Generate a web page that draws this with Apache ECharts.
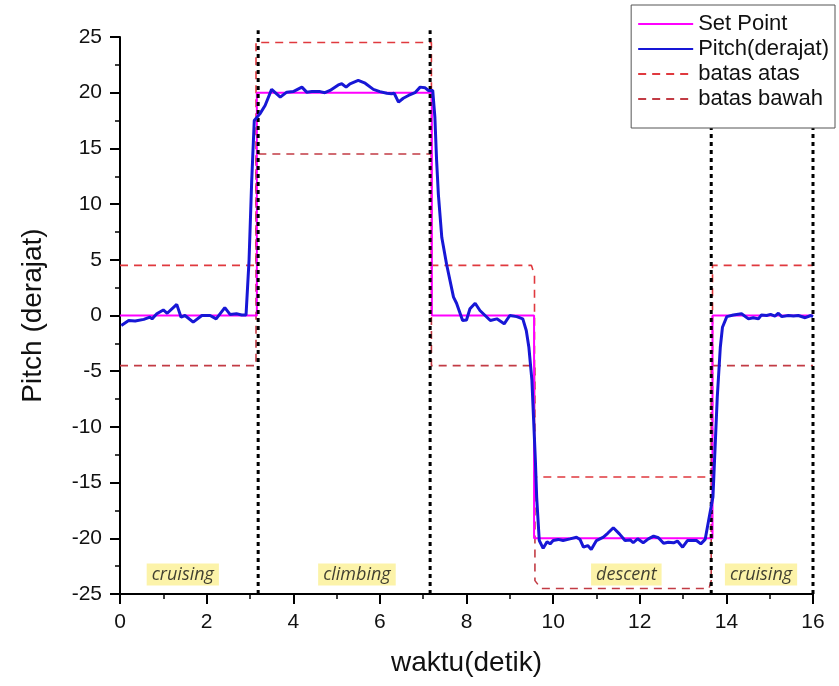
<!DOCTYPE html>
<html>
<head>
<meta charset="utf-8">
<script src="https://cdn.jsdelivr.net/npm/echarts@6/dist/echarts.min.js"></script>
<style>
  html, body { margin: 0; padding: 0; background: #fff; }
  #chart { width: 839px; height: 686px; }
</style>
</head>
<body>
<div id="chart"></div>
<script>
// measured pitch response (time in s, pitch in degrees)
const pitchTime = [0.03, 0.2, 0.35, 0.55, 0.69, 0.74, 0.85, 1.0, 1.09, 1.31, 1.41, 1.5, 1.69, 1.89, 2.08, 2.22, 2.42, 2.54, 2.69, 2.81, 2.91, 2.98, 3.04, 3.1, 3.23, 3.35, 3.5, 3.7, 3.85, 4.0, 4.2, 4.31, 4.43, 4.62, 4.73, 4.85, 5.04, 5.12, 5.22, 5.31, 5.5, 5.66, 5.85, 6.0, 6.16, 6.27, 6.33, 6.43, 6.54, 6.66, 6.81, 6.93, 7.04, 7.12, 7.22, 7.27, 7.31, 7.35, 7.43, 7.54, 7.7, 7.77, 7.91, 8.0, 8.08, 8.2, 8.31, 8.43, 8.55, 8.7, 8.87, 9.0, 9.16, 9.3, 9.38, 9.44, 9.51, 9.55, 9.59, 9.62, 9.68, 9.77, 9.86, 9.93, 10.0, 10.12, 10.23, 10.39, 10.54, 10.62, 10.7, 10.8, 10.88, 11.0, 11.16, 11.26, 11.39, 11.53, 11.66, 11.78, 11.85, 11.95, 12.08, 12.2, 12.32, 12.43, 12.55, 12.66, 12.78, 12.87, 12.99, 13.1, 13.31, 13.41, 13.51, 13.59, 13.69, 13.74, 13.79, 13.86, 13.91, 14.01, 14.16, 14.35, 14.51, 14.62, 14.74, 14.81, 14.93, 15.02, 15.12, 15.2, 15.28, 15.43, 15.55, 15.66, 15.82, 15.95, 16.0];
const pitchValue = [-0.9, -0.45, -0.5, -0.35, -0.15, -0.3, 0.15, 0.5, 0.2, 1.0, -0.15, 0, -0.6, 0, 0, -0.3, 0.7, 0.1, 0.15, 0.05, 0.05, 5, 12, 17.5, 18.1, 18.85, 20.3, 19.6, 20.05, 20.1, 20.5, 20.05, 20.1, 20.1, 20.0, 20.2, 20.7, 20.8, 20.5, 20.8, 21.1, 20.85, 20.3, 20.1, 19.95, 19.9, 19.95, 19.15, 19.5, 19.75, 20.0, 20.5, 20.45, 20.2, 20.2, 17.8, 13.9, 10.9, 7.0, 4.6, 1.65, 1.1, -0.45, -0.4, 0.6, 1.1, 0.45, 0, -0.45, -0.3, -0.75, 0, -0.1, -0.3, -1.35, -2.85, -5.8, -9.4, -13, -16.3, -20.2, -20.9, -20.3, -20.5, -20.2, -20.1, -20.2, -20.05, -19.9, -20.1, -20.8, -20.65, -21.0, -20.2, -19.9, -19.55, -19.05, -19.6, -20.2, -20.15, -20.4, -20.05, -20.4, -20.05, -19.8, -19.95, -20.45, -20.35, -20.4, -20.25, -20.8, -20.2, -20.2, -20.5, -20.1, -18.4, -16.3, -11.8, -7.3, -2.85, -1.05, -0.1, 0.05, 0.15, -0.3, -0.2, -0.3, 0.05, 0, 0.1, -0.05, 0.2, -0.1, 0, -0.05, 0, -0.2, 0, -0.1];

// set point (step profile)
const setTime = [0, 3.16, 3.16, 7.2, 7.2, 9.56, 9.56, 13.68, 13.68, 16];
const setValue = [0, 0, 20, 20, 0, 0, -20, -20, 0, 0];

// upper bound
const upperTime = [0, 3.14, 3.14, 7.19, 7.19, 9.5, 9.57, 9.57, 13.68, 13.68, 16];
const upperValue = [4.5, 4.5, 24.5, 24.5, 4.5, 4.5, 3.6, -14.5, -14.5, 4.5, 4.5];

// lower bound
const lowerTime = [0, 3.14, 3.14, 7.19, 7.19, 9.58, 9.58, 9.72, 13.6, 13.65, 13.65, 16];
const lowerValue = [-4.5, -4.5, 14.5, 14.5, -4.5, -4.5, -23.8, -24.5, -24.5, -23.8, -4.5, -4.5];

// phase boundaries
const phaseBounds = [3.19, 7.16, 13.65, 16];
const phaseSpan = [-25, 25.6];

// phase labels
const phaseNames = ['cruising', 'climbing', 'descent', 'cruising'];
const phaseX = [1.45, 5.47, 11.69, 14.8];
const phaseY = [-23.25, -23.25, -23.25, -23.25];

const zip = (xs, ys) => xs.map((x, i) => [x, ys[i]]);

const chart = echarts.init(document.getElementById('chart'));

const phaseSeries = phaseBounds.map(x => ({
  name: 'phase',
  type: 'line',
  symbol: 'none',
  silent: true,
  clip: false,
  lineStyle: { color: '#000', width: 3, type: [4, 4] },
  data: phaseSpan.map(y => [x, y]),
  z: 4
}));

const option = {
  animation: false,
  textStyle: { fontFamily: 'Liberation Sans, Arial, sans-serif' },
  grid: { left: 120, right: 26, top: 37, bottom: 92 },
  legend: {
    orient: 'vertical',
    right: 4,
    top: 5,
    z: 20,
    itemWidth: 55,
    itemHeight: 14,
    itemGap: 3,
    padding: [8, 6, 18, 6],
    backgroundColor: '#fff',
    borderColor: '#555',
    borderWidth: 1,
    itemStyle: { opacity: 0 },
    textStyle: { fontSize: 22, color: '#111', fontFamily: 'Liberation Sans, Arial, sans-serif' },
    data: ['Set Point', 'Pitch(derajat)', 'batas atas', 'batas bawah']
  },
  xAxis: {
    type: 'value',
    min: 0,
    max: 16,
    interval: 2,
    name: 'waktu(detik)',
    nameLocation: 'middle',
    nameGap: 55,
    nameTextStyle: { fontSize: 28, color: '#111' },
    axisLine: { onZero: false, lineStyle: { color: '#000', width: 2 } },
    axisTick: { length: 10, lineStyle: { color: '#000', width: 2 } },
    minorTick: { show: true, splitNumber: 2, length: 5, lineStyle: { color: '#000', width: 1.5 } },
    axisLabel: { fontSize: 21, color: '#111', margin: 18 },
    splitLine: { show: false }
  },
  yAxis: {
    type: 'value',
    min: -25,
    max: 25,
    interval: 5,
    name: 'Pitch (derajat)',
    nameLocation: 'middle',
    nameGap: 73,
    nameTextStyle: { fontSize: 28, color: '#111' },
    axisLine: { show: true, onZero: false, lineStyle: { color: '#000', width: 2 } },
    axisTick: { show: true, length: 10, lineStyle: { color: '#000', width: 2 } },
    minorTick: { show: true, splitNumber: 2, length: 5, lineStyle: { color: '#000', width: 1.5 } },
    axisLabel: { fontSize: 21, color: '#111', margin: 18 },
    splitLine: { show: false }
  },
  series: [
    {
      name: 'batas atas',
      type: 'line',
      symbol: 'none',
      color: '#e0393e',
      lineStyle: { color: '#e0393e', width: 1.6, type: [8, 6] },
      data: zip(upperTime, upperValue),
      z: 2
    },
    {
      name: 'batas bawah',
      type: 'line',
      symbol: 'none',
      color: '#c23b44',
      lineStyle: { color: '#c23b44', width: 1.6, type: [8, 6] },
      data: zip(lowerTime, lowerValue),
      z: 2
    },
    {
      name: 'Set Point',
      type: 'line',
      symbol: 'none',
      color: '#ff00ff',
      lineStyle: { color: '#ff00ff', width: 2 },
      data: zip(setTime, setValue),
      z: 3
    },
    ...phaseSeries,
    {
      name: 'Pitch(derajat)',
      type: 'line',
      symbol: 'none',
      color: '#1717d6',
      lineStyle: { color: '#1717d6', width: 3 },
      data: zip(pitchTime, pitchValue),
      z: 5
    },
    {
      name: 'labels',
      type: 'scatter',
      symbolSize: 0,
      silent: true,
      data: phaseX.map((x, i) => [x, phaseY[i], phaseNames[i]]),
      label: {
        show: true,
        position: 'inside',
        formatter: p => p.value[2],
        fontSize: 18,
        fontStyle: 'italic',
        fontFamily: 'Open Sans, sans-serif',
        color: '#111',
        backgroundColor: '#fbf094',
        padding: [2, 5, 2, 5]
      },
      z: 6
    }
  ]
};

chart.setOption(option);
</script>
</body>
</html>
